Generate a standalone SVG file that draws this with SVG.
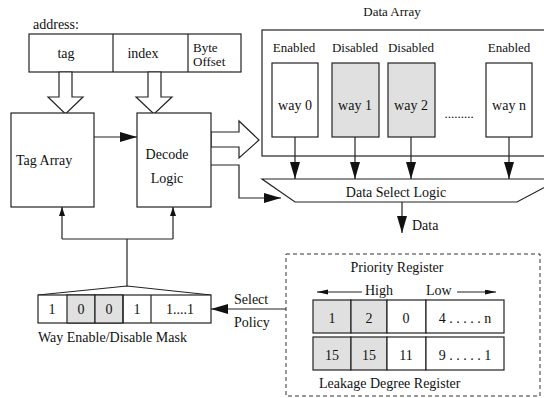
<svg xmlns="http://www.w3.org/2000/svg" width="544" height="398" viewBox="0 0 544 398">
  <defs>
    <style>
      .ln { fill: none; stroke: #222; stroke-width: 1.2; }
      .bx { fill: #fff; stroke: #222; stroke-width: 1.2; }
      .gr { fill: #e0e0e0; stroke: #222; stroke-width: 1.2; }
      .dash { fill: none; stroke: #333; stroke-width: 1; stroke-dasharray: 4 3; }
      text { font-family: "Liberation Serif", "Times New Roman", serif; font-size: 14px; fill: #111; }
      .s13 { font-size: 13px; }
      .m { text-anchor: middle; }
    </style>
    <marker id="ah" markerUnits="userSpaceOnUse" markerWidth="18" markerHeight="11" refX="17" refY="5" orient="auto">
      <path d="M0,0 L17,5 L0,10 Z" fill="#111"/>
    </marker>
    <marker id="ahs" markerUnits="userSpaceOnUse" markerWidth="10" markerHeight="7" refX="9" refY="3" orient="auto">
      <path d="M0,0 L9,3 L0,6 Z" fill="#111"/>
    </marker>
    <marker id="aht" markerUnits="userSpaceOnUse" markerWidth="12" markerHeight="6" refX="11" refY="2.5" orient="auto">
      <path d="M0,0 L11,2.5 L0,5 Z" fill="#111"/>
    </marker>
  </defs>

  <!-- address fields -->
  <g id="address">
    <text x="33" y="29">address:</text>
    <rect class="bx" x="29" y="34" width="212" height="38"/>
    <line class="ln" x1="113" y1="34" x2="113" y2="72"/>
    <line class="ln" x1="188" y1="34" x2="188" y2="72"/>
    <text class="m" x="66" y="58">tag</text>
    <text class="m" x="143" y="58">index</text>
    <text class="s13" x="193" y="52">Byte</text>
    <text class="s13" x="193" y="66">Offset</text>
  </g>

  <!-- hollow bus arrows -->
  <g id="bus-arrows">
    <polygon class="bx" points="59,72 72,72 72,97 83,97 65.5,114 48,97 59,97"/>
    <polygon class="bx" points="148,72 161,72 161,97 172,97 154,114 136,97 148,97"/>
    <polygon class="bx" points="211,132 239,132 239,121 259,140 239,158 239,147 211,147"/>
  </g>

  <g id="tag-array">
    <rect class="bx" x="11" y="113" width="83" height="94"/>
    <text x="16" y="165">Tag Array</text>
  </g>

  <g id="decode-logic">
    <rect class="bx" x="137" y="113" width="74" height="94"/>
    <text class="m" x="167" y="159">Decode</text>
    <text class="m" x="167" y="183">Logic</text>
  </g>

  <!-- data array with its ways -->
  <g id="data-array">
    <text class="m s13" x="392" y="16">Data Array</text>
    <rect class="bx" x="262" y="30" width="300" height="126"/>
    <text class="m s13" x="294" y="52">Enabled</text>
    <text class="m s13" x="355" y="52">Disabled</text>
    <text class="m s13" x="411" y="52">Disabled</text>
    <text class="m s13" x="509" y="52">Enabled</text>
    <g id="way0">
      <rect class="bx" x="272" y="63" width="46" height="74"/>
      <text class="m" x="295" y="110">way 0</text>
    </g>
    <g id="way1">
      <rect class="gr" x="332" y="63" width="47" height="74"/>
      <text class="m" x="355" y="110">way 1</text>
    </g>
    <g id="way2">
      <rect class="gr" x="388" y="63" width="47" height="74"/>
      <text class="m" x="411" y="110">way 2</text>
    </g>
    <text class="m s13" x="459" y="118">.........</text>
    <g id="wayn">
      <rect class="bx" x="486" y="63" width="46" height="74"/>
      <text class="m" x="509" y="110">way n</text>
    </g>
  </g>

  <g id="data-select-logic">
    <polygon class="bx" points="262,179 560,179 517,202 295,202"/>
    <text class="m" x="396" y="197">Data Select Logic</text>
  </g>

  <g id="way-mask">
    <polyline class="ln" points="38,295 127,286 211,295"/>
    <rect class="bx" x="38" y="295" width="173" height="28"/>
    <rect class="gr" x="67" y="295" width="28" height="28"/>
    <rect class="gr" x="95" y="295" width="28" height="28"/>
    <line class="ln" x1="123" y1="295" x2="123" y2="323"/>
    <line class="ln" x1="151" y1="295" x2="151" y2="323"/>
    <text class="m" x="52" y="314">1</text>
    <text class="m" x="81" y="314">0</text>
    <text class="m" x="109" y="314">0</text>
    <text class="m" x="137" y="314">1</text>
    <text class="m" x="180" y="314">1....1</text>
    <text x="38" y="342">Way Enable/Disable Mask</text>
  </g>

  <g id="select-policy">
    <rect class="dash" x="286" y="254" width="254" height="142"/>
    <text class="m" x="397" y="272">Priority Register</text>
    <text x="365" y="295">High</text>
    <text x="426" y="295">Low</text>
    <g id="priority-register">
      <rect class="gr" x="313" y="300" width="38" height="33"/>
      <rect class="gr" x="351" y="300" width="36" height="33"/>
      <rect class="bx" x="387" y="300" width="39" height="33"/>
      <rect class="bx" x="426" y="300" width="78" height="33"/>
      <text class="m" x="332" y="323">1</text>
      <text class="m" x="369" y="323">2</text>
      <text class="m" x="406" y="323">0</text>
      <text class="m" x="465" y="323">4 . . . . . n</text>
    </g>
    <g id="leakage-register">
      <rect class="gr" x="313" y="337" width="38" height="33"/>
      <rect class="gr" x="351" y="337" width="36" height="33"/>
      <rect class="bx" x="387" y="337" width="39" height="33"/>
      <rect class="bx" x="426" y="337" width="78" height="33"/>
      <text class="m" x="332" y="360">15</text>
      <text class="m" x="369" y="360">15</text>
      <text class="m" x="406" y="360">11</text>
      <text class="m" x="465" y="360">9 . . . . . 1</text>
    </g>
    <text x="319" y="388">Leakage Degree Register</text>
  </g>

  <!-- connectors -->
  <g id="connectors">
    <path class="ln" d="M94,137 H137" marker-end="url(#ah)"/>
    <path class="ln" d="M211,165 H239 V198 H281" marker-end="url(#ah)"/>
    <path class="ln" d="M295,137 V179" marker-end="url(#ah)"/>
    <path class="ln" d="M355,137 V179" marker-end="url(#ah)"/>
    <path class="ln" d="M411,137 V179" marker-end="url(#ah)"/>
    <path class="ln" d="M509,137 V179" marker-end="url(#ah)"/>
    <path class="ln" d="M402,202 V233" marker-end="url(#ah)"/>
    <path class="ln" d="M127,286 V239"/>
    <path class="ln" d="M62,239 H173"/>
    <path class="ln" d="M62,239 V207" marker-end="url(#ahs)"/>
    <path class="ln" d="M173,239 V207" marker-end="url(#ahs)"/>
    <path class="ln" d="M286,309 H211" marker-end="url(#ah)"/>
    <path class="ln" d="M362,292 H317" marker-end="url(#aht)"/>
    <path class="ln" d="M457,292 H496" marker-end="url(#aht)"/>
  </g>
  <text x="412" y="230">Data</text>
  <text x="234" y="304">Select</text>
  <text x="234" y="327">Policy</text>
</svg>
